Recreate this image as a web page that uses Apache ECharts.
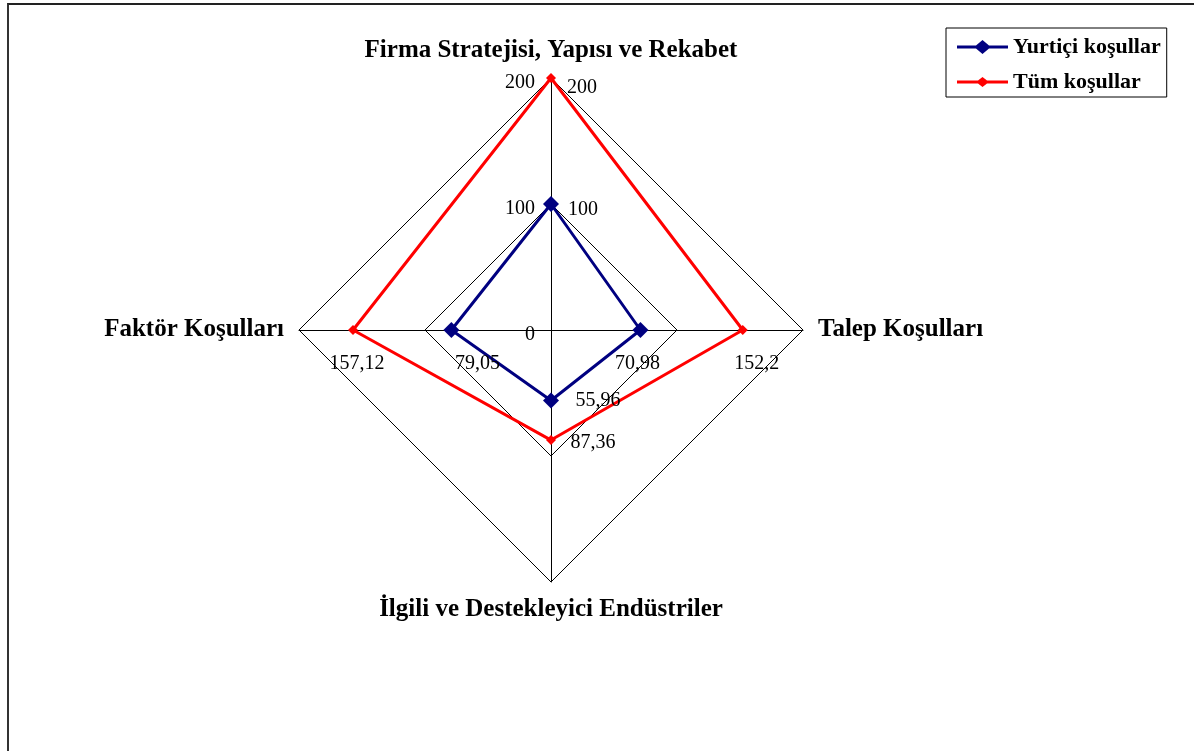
<!DOCTYPE html>
<html>
<head>
<meta charset="utf-8">
<script src="https://cdn.jsdelivr.net/npm/echarts@6/dist/echarts.min.js"></script>
<style>
html, body { margin: 0; padding: 0; background: #fff; }
#frame { position: absolute; left: 7px; top: 3px; width: 1187px; height: 748px; border-left: 2px solid #333; border-top: 2px solid #222; }
#main { position: absolute; left: 0; top: 0; width: 1194px; height: 751px; }
</style>
</head>
<body>
<div id="frame"></div>
<div id="main"></div>
<script>
// eksenler (saat yönünün tersine: üst, sol, alt, sağ)
const indicatorNames = ['Firma Stratejisi, Yapısı ve Rekabet', 'Faktör Koşulları', 'İlgili ve Destekleyici Endüstriler', 'Talep Koşulları'];
const axisMax = 200;
const yurtici = [100, 79.05, 55.96, 70.98];
const tum = [200, 157.12, 87.36, 152.2];
const seriesNames = ['Yurtiçi koşullar', 'Tüm koşullar'];

// etiket kaydırmaları (piksel), seri ve eksen sırasına göre
const labelShift = [
  [[32, 6], [26, 34], [47, 0], [-3, 34]],
  [[31, 10], [4, 34], [42, 3], [14, 34]]
];

const fmt = function (v) { return String(v).replace('.', ','); };

const serif = 'Liberation Serif';
const blueIcon = 'path://M0,5.5L19,5.5L25.5,0L32,5.5L51,5.5L51,8.5L32,8.5L25.5,14L19,8.5L0,8.5Z';
const redIcon = 'path://M0,5.5L21,5.5L25.5,2L30,5.5L51,5.5L51,8.5L30,8.5L25.5,12L21,8.5L0,8.5Z';

const chart = echarts.init(document.getElementById('main'));

const option = {
  animation: false,
  legend: {
    orient: 'vertical',
    left: 946,
    top: 28,
    padding: [8, 6, 4, 11],
    borderColor: '#000',
    borderWidth: 1,
    backgroundColor: '#fff',
    itemWidth: 51,
    itemHeight: 14,
    itemGap: 13,
    textStyle: { fontFamily: serif, fontWeight: 'bold', fontSize: 22, color: '#000' },
    data: [
      { name: seriesNames[0], icon: blueIcon },
      { name: seriesNames[1], icon: redIcon }
    ]
  },
  radar: {
    center: [551, 330],
    radius: 252,
    shape: 'polygon',
    splitNumber: 2,
    nameGap: 15,
    axisName: { color: '#000', fontFamily: serif, fontWeight: 'bold', fontSize: 25 },
    axisLine: { lineStyle: { color: '#000', width: 1 } },
    splitLine: { lineStyle: { color: '#000', width: 1 } },
    splitArea: { show: false },
    axisLabel: { show: false, color: '#000', fontFamily: serif, fontSize: 20, margin: 16, verticalAlign: 'top', lineHeight: 10 },
    indicator: indicatorNames.map(function (n, i) {
      const ind = { name: n, min: 0, max: axisMax };
      if (i === 0) ind.axisLabel = { show: true };
      return ind;
    })
  },
  series: [{
    type: 'radar',
    symbol: 'diamond',
    labelLayout: function (p) {
      const vals = (p.dataIndex === 1 ? tum : yurtici).map(fmt);
      const k = vals.indexOf(p.text);
      if (k < 0) return {};
      const s = labelShift[p.dataIndex][k];
      return { dx: s[0], dy: s[1] };
    },
    data: [
      {
        name: seriesNames[0],
        value: yurtici,
        symbolSize: 16,
        lineStyle: { color: '#000080', width: 3 },
        itemStyle: { color: '#000080' },
        label: { show: true, position: 'inside', color: '#000', fontFamily: serif, fontSize: 20, formatter: function (p) { return fmt(p.value); } }
      },
      {
        name: seriesNames[1],
        value: tum,
        symbolSize: 10,
        lineStyle: { color: '#ff0000', width: 3 },
        itemStyle: { color: '#ff0000' },
        label: { show: true, position: 'inside', color: '#000', fontFamily: serif, fontSize: 20, formatter: function (p) { return fmt(p.value); } }
      }
    ]
  }]
};

chart.setOption(option);
</script>
</body>
</html>
